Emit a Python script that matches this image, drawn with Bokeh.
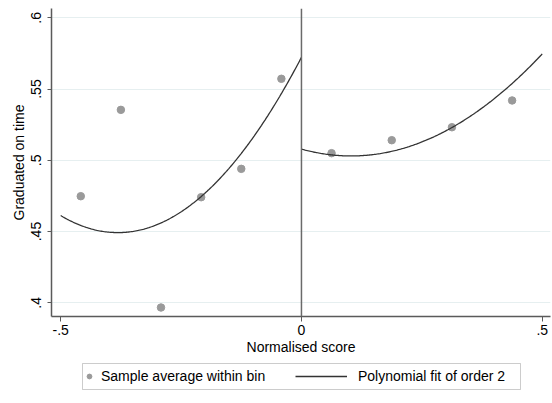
import numpy as np
from bokeh.plotting import figure
from bokeh.layouts import column
from bokeh.models import Range1d, FixedTicker, Span, Legend, LegendItem, BoxAnnotation
from bokeh.embed import file_html
from bokeh.resources import INLINE

FONT = "Liberation Sans"

# Sample averages within bins
bin_x_left = [-0.4583, -0.375, -0.2917, -0.2083, -0.125, -0.0417]
bin_y_left = [0.4748, 0.5354, 0.3967, 0.4741, 0.4940, 0.5572]
bin_x_right = [0.0625, 0.1875, 0.3125, 0.4375]
bin_y_right = [0.5050, 0.5141, 0.5232, 0.5420]

# Points read along the drawn quadratic fits
fit_x_left = [-0.5, -0.4381, -0.3757, -0.2925, -0.2094, -0.1436, -0.0362, 0.0]
fit_y_left = [0.4613, 0.4531, 0.4484, 0.4542, 0.4741, 0.4996, 0.5497, 0.5716]
fit_x_right = [0.0, 0.0609, 0.1337, 0.2272, 0.3104, 0.4143, 0.5]
fit_y_right = [0.5081, 0.5044, 0.5027, 0.5092, 0.5228, 0.5490, 0.5735]

x_ticks = [-0.5, 0.0, 0.5]
x_tick_labels = ["-.5", "0", ".5"]
y_ticks = [0.4, 0.45, 0.5, 0.55, 0.6]
y_tick_labels = [".4", ".45", ".5", ".55", ".6"]
cutoff = 0.0

x_title = "Normalised score"
y_title = "Graduated on time"
legend_labels = ["Sample average within bin", "Polynomial fit of order 2"]

DOT = "#9a9a9a"
FIT = "#333333"


def poly2(xs, ys):
    c = np.polyfit(xs, ys, 2)
    gx = np.linspace(min(xs), max(xs), 200)
    return gx, np.polyval(c, gx)


p = figure(width=552, height=360, output_backend="svg", toolbar_location=None,
           x_range=Range1d(-0.5191, 0.5172), y_range=Range1d(0.39039, 0.60653),
           min_border_left=51, min_border_right=2, min_border_top=8,
           min_border_bottom=44)
p.outline_line_color = None
p.background_fill_color = "white"
p.border_fill_color = "white"

p.xgrid.visible = False
p.ygrid.grid_line_color = "#e6eff0"
p.ygrid.grid_line_width = 1

AX = "#5a5a5a"
for ax in (p.xaxis[0], p.yaxis[0]):
    ax.axis_line_color = AX
    ax.axis_line_width = 1.5
    ax.major_tick_line_color = AX
    ax.major_tick_line_width = 1
    ax.major_tick_in = 0
    ax.minor_tick_line_color = None
    ax.major_label_text_font = FONT
    ax.major_label_text_font_size = "14px"
    ax.major_label_text_color = "#000000"
    ax.axis_label_text_font = FONT
    ax.axis_label_text_font_size = "14px"
    ax.axis_label_text_font_style = "normal"
    ax.axis_label_text_color = "#000000"

p.xaxis.ticker = FixedTicker(ticks=x_ticks)
p.xaxis.major_label_overrides = {t: l for t, l in zip(x_ticks, x_tick_labels)}
p.xaxis.major_tick_out = 5
p.xaxis.major_label_standoff = 3
p.xaxis.axis_label = x_title
p.xaxis.axis_label_standoff = 1

p.yaxis.ticker = FixedTicker(ticks=y_ticks)
p.yaxis.major_label_overrides = {t: l for t, l in zip(y_ticks, y_tick_labels)}
p.yaxis.major_tick_out = 4
p.yaxis.major_label_standoff = 6
p.yaxis.major_label_orientation = "vertical"
p.yaxis.axis_label = y_title
p.yaxis.axis_label_standoff = 2

p.add_layout(Span(location=cutoff, dimension="height", line_color="#6a6a6a",
                  line_width=1.5))

p.scatter(bin_x_left, bin_y_left, size=7.5, color=DOT)
p.scatter(bin_x_right, bin_y_right, size=7.5, color=DOT)
gx, gy = poly2(fit_x_left, fit_y_left)
p.line(gx, gy, line_color=FIT, line_width=1.3)
gx, gy = poly2(fit_x_right, fit_y_right)
p.line(gx, gy, line_color=FIT, line_width=1.3)

# Legend strip below the chart (its frame is aligned with the chart's frame:
# x from 51 to 550 on the page)
q = figure(width=552, height=43, output_backend="svg", toolbar_location=None,
           x_axis_type=None, y_axis_type=None, min_border=0,
           x_range=Range1d(0, 1), y_range=Range1d(0, 1))
q.outline_line_color = None
q.grid.visible = False
q.background_fill_color = "white"
q.border_fill_color = "white"
# proxies for legend glyphs, kept outside the visible range
leg_dot = q.scatter([-5], [-5], size=7.5, color=DOT)
leg_line = q.line([-5, -4], [-5, -5], line_color=FIT, line_width=1.3)

common = dict(orientation="horizontal", padding=0, margin=0, spacing=0,
              border_line_alpha=0, background_fill_alpha=0,
              label_text_font=FONT, label_text_font_size="14px",
              label_text_color="#000000", glyph_height=20, label_height=20)
legA = Legend(items=[LegendItem(label=legend_labels[0], renderers=[leg_dot])],
              location=(32, 17), glyph_width=12, label_standoff=6, **common)
legB = Legend(items=[LegendItem(label=legend_labels[1], renderers=[leg_line])],
              location=(244, 17), glyph_width=52, label_standoff=11, **common)
q.add_layout(legA, "center")
q.add_layout(legB, "center")

box = BoxAnnotation(left=82, right=520, top=3, bottom=29,
                    left_units="canvas", right_units="canvas",
                    top_units="canvas", bottom_units="canvas",
                    fill_color=None, line_color="#555555", line_width=1,
                    level="overlay")
q.add_layout(box)

layout = column(p, q, spacing=0)
open("out.html", "w").write(file_html(layout, INLINE))
